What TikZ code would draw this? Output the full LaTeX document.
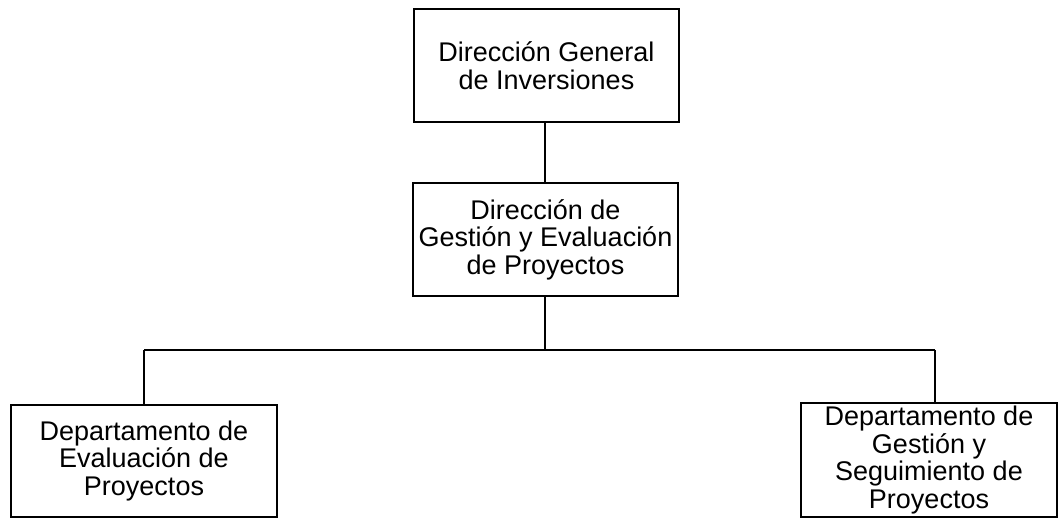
\documentclass[tikz,border=0pt]{standalone}
\usepackage{fontspec}
\setmainfont{Liberation Sans}
\usetikzlibrary{calc}
\tikzset{
	unidad/.style={draw=black, line width=1.6pt, inner sep=0pt, align=center,
		font=\fontsize{27}{27.5}\selectfont},
	linea/.style={line width=1.6pt}
}

\begin{document}
\begin{tikzpicture}[x=1pt, y=-1pt]
			%%%%% START %%%%%
			
			\useasboundingbox (0, 0) rectangle (1058, 518);
			
			\node[unidad, minimum width=265, minimum height=113] (dgi) at (546.5, 65.5) {Dirección General\\de Inversiones};
			\node[unidad, minimum width=265, minimum height=113] (dgep) at (545.5, 239.5) {Dirección de\\Gestión y Evaluación\\de Proyectos};
			
			\node[unidad, minimum width=266, minimum height=112] (dep) at (144, 461) {Departamento de\\Evaluación de\\Proyectos};
			\node[unidad, minimum width=256, minimum height=114] (dgsp) at (929, 460) {Departamento de\\Gestión y\\Seguimiento de\\Proyectos};
			
			\coordinate (busM) at (545, 350);
			\coordinate (busL) at (144, 350);
			\coordinate (busR) at (935, 350);
			
			\draw[linea] (dgi.south -| busM) -- (dgep.north -| busM);
			\draw[linea] (dgep.south -| busM) -- (busM);
			\draw[linea] (busL) -- (busR);
			\draw[linea] (busL) -- (busL |- dep.north);
			\draw[linea] (busR) -- (busR |- dgsp.north);
			
			%%%%% END %%%%%
		\end{tikzpicture}
\end{document}
